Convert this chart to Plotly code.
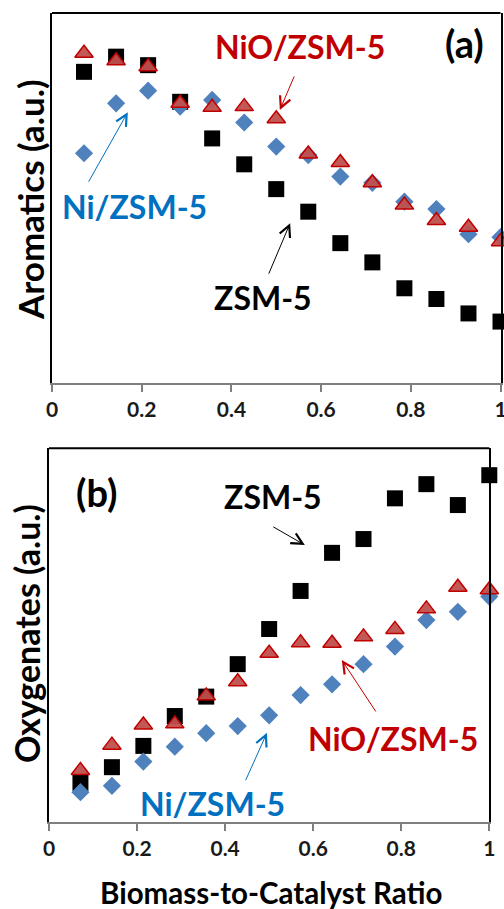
import plotly.graph_objects as go

# ---- data ----
ratio = [0.0714, 0.1429, 0.2143, 0.2857, 0.3571, 0.4286, 0.5, 0.5714,
         0.6429, 0.7143, 0.7857, 0.8571, 0.9286, 1.0]
tick_vals = [0, 0.2, 0.4, 0.6, 0.8, 1.0]
tick_text = ["0", "0.2", "0.4", "0.6", "0.8", "1"]

arom_zsm5 = [84.1, 88.2, 85.9, 76.0, 66.1, 59.1, 52.4, 46.3, 37.8, 32.6, 25.6, 22.7, 18.8, 16.6]
arom_nio = [89.1, 87.1, 85.5, 75.6, 74.5, 74.7, 71.4, 61.9, 59.6, 54.1, 48.1, 43.9, 42.1, 38.2]
arom_ni = [62.1, 75.6, 79.0, 74.7, 76.5, 70.4, 63.9, 61.6, 55.8, 54.1, 49.0, 47.0, 40.2, 39.4]

oxy_zsm5 = [10.4, 14.6, 20.3, 28.3, 33.5, 42.2, 51.6, 61.8, 72.0, 75.7, 86.6, 90.4, 84.8, 92.8]
oxy_nio = [13.7, 20.5, 25.9, 26.2, 33.7, 37.5, 45.1, 47.9, 47.8, 49.5, 51.5, 57.0, 62.8, 62.1]
oxy_ni = [7.9, 9.6, 16.1, 20.1, 23.7, 25.6, 28.5, 33.9, 36.8, 42.2, 46.9, 54.0, 56.2, 60.3]

FONT = "Lato"
BLACK = "#000000"
BLUE_M = "#4F81BD"
RED_M = "rgba(192,80,77,0.95)"
RED_L = "#C00000"
RED_T = "#C00000"
BLUE_T = "#0070C0"

W, H = 504, 909

fig = go.Figure()

def add_series(xa, ya, zsm, ni, nio):
    fig.add_trace(go.Scatter(x=ratio, y=zsm, mode="markers", xaxis=xa, yaxis=ya,
                             marker=dict(symbol="square", size=16, color=BLACK),
                             cliponaxis=False, showlegend=False))
    fig.add_trace(go.Scatter(x=ratio, y=ni, mode="markers", xaxis=xa, yaxis=ya,
                             marker=dict(symbol="diamond", size=14, color=BLUE_M),
                             cliponaxis=False, showlegend=False))
    fig.add_trace(go.Scatter(x=ratio, y=nio, mode="markers", xaxis=xa, yaxis=ya,
                             marker=dict(symbol="triangle-up", size=16, color=RED_M,
                                         line=dict(color=RED_L, width=1.5)),
                             cliponaxis=False, showlegend=False))

add_series("x", "y", arom_zsm5, arom_ni, arom_nio)
add_series("x2", "y2", oxy_zsm5, oxy_ni, oxy_nio)

def px_x(p):
    return p / W

def px_y(p):
    return 1 - p / H

xcommon = dict(range=[0, 1], tickvals=tick_vals, ticktext=tick_text,
               showline=True, linecolor="#7F7F7F", linewidth=2,
               ticks="outside", ticklen=7, tickcolor="#7F7F7F", tickwidth=1.5,
               showgrid=False, zeroline=False, automargin=False,
               ticklabeloverflow="allow",
               tickfont=dict(family=FONT, size=21, color="#1a1a1a", weight="bold"))
ycommon = dict(range=[0, 100], showticklabels=False, ticks="", showgrid=False,
               zeroline=False, showline=True, linecolor=BLACK, linewidth=2, mirror=True,
               automargin=False)

fig.update_layout(
    width=W, height=H, autosize=False,
    margin=dict(l=0, r=0, t=0, b=0, pad=0),
    paper_bgcolor="white", plot_bgcolor="white",
    xaxis=dict(domain=[px_x(52), px_x(500.5)], anchor="y", **xcommon),
    yaxis=dict(domain=[px_y(383), px_y(13)], anchor="x", **ycommon),
    xaxis2=dict(domain=[px_x(49), px_x(489.3)], anchor="y2", **xcommon),
    yaxis2=dict(domain=[px_y(821.7), px_y(448.3)], anchor="x2", **ycommon),
)

# top frame lines
for xr, yr in (("x domain", "y domain"), ("x2 domain", "y2 domain")):
    fig.add_shape(type="line", xref=xr, yref=yr, x0=0, x1=1, y0=1, y1=1,
                  line=dict(color=BLACK, width=2))

def txt(xr, yr, x, y, s, color, size):
    fig.add_annotation(xref=xr, yref=yr, x=x, y=y, text=s, showarrow=False,
                       font=dict(family=FONT, size=size, color=color, weight="bold"),
                       xanchor="center", yanchor="middle")

def arrow(xr, yr, x, y, ax, ay, color):
    fig.add_annotation(xref=xr, yref=yr, x=x, y=y, ax=ax, ay=ay, text="",
                       showarrow=True, arrowhead=5, arrowsize=2.2, arrowwidth=1,
                       arrowcolor=color, standoff=0)

LS = 32
# panel (a)
txt("x", "y", 0.553, 90.9, "NiO/ZSM-5", RED_T, LS)
txt("x", "y", 0.185, 47.6, "Ni/ZSM-5", BLUE_T, LS)
txt("x", "y", 0.470, 23.0, "ZSM-5", BLACK, LS)
txt("x", "y", 0.920, 91.9, "(a)", BLACK, 38)
arrow("x", "y", 0.508, 73.8, 15, -35, RED_T)
arrow("x", "y", 0.169, 73.2, -40, 71, BLUE_T)
arrow("x", "y", 0.531, 43.2, -22, 52, BLACK)

# panel (b)
txt("x2", "y2", 0.109, 88.4, "(b)", BLACK, 38)
txt("x2", "y2", 0.509, 87.0, "ZSM-5", BLACK, LS)
txt("x2", "y2", 0.781, 22.4, "NiO/ZSM-5", RED_T, LS)
txt("x2", "y2", 0.372, 5.0, "Ni/ZSM-5", BLUE_T, LS)
arrow("x2", "y2", 0.581, 74.1, -33, -19, BLACK)
arrow("x2", "y2", 0.665, 43.3, 35, 53, RED_T)
arrow("x2", "y2", 0.495, 23.8, -22, 49, BLUE_T)

# axis titles
fig.add_annotation(xref="paper", yref="paper", x=px_x(30), y=px_y(200),
                   text="Aromatics (a.u.)", textangle=-90, showarrow=False,
                   font=dict(family=FONT, size=35, color=BLACK, weight="bold"),
                   xanchor="center", yanchor="middle")
fig.add_annotation(xref="paper", yref="paper", x=px_x(26), y=px_y(634),
                   text="Oxygenates (a.u.)", textangle=-90, showarrow=False,
                   font=dict(family=FONT, size=34, color=BLACK, weight="bold"),
                   xanchor="center", yanchor="middle")
fig.add_annotation(xref="paper", yref="paper", x=px_x(271), y=px_y(892),
                   text="Biomass-to-Catalyst Ratio", showarrow=False,
                   font=dict(family=FONT, size=29.5, color=BLACK, weight="bold"),
                   xanchor="center", yanchor="middle")

fig.write_html("out.html", config={"displayModeBar": False},
               post_script="document.body.style.margin='0';"
                           "document.documentElement.style.overflow='hidden';")
